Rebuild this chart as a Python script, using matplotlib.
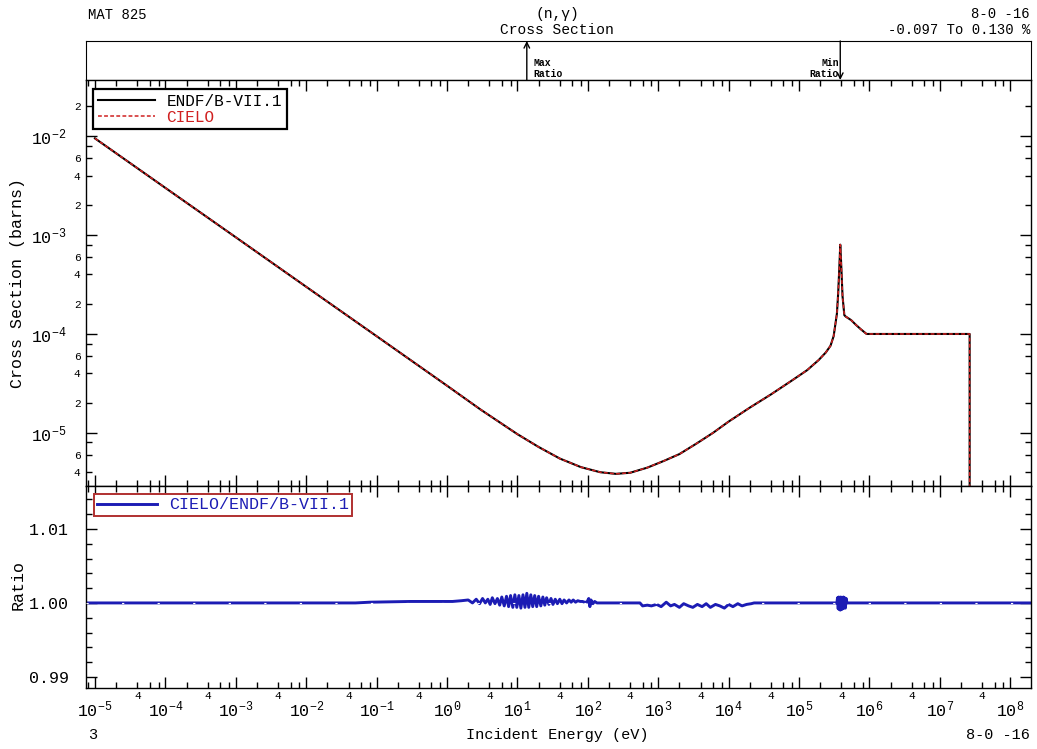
import numpy as np
import matplotlib
matplotlib.use('Agg')
import matplotlib.pyplot as plt
from matplotlib.ticker import LogLocator, FuncFormatter, FixedLocator, MultipleLocator, NullFormatter

plt.rcParams['font.family'] = ['Liberation Mono', 'DejaVu Sans']
plt.rcParams['mathtext.fontset'] = 'custom'
plt.rcParams['mathtext.rm'] = 'Liberation Mono'
plt.rcParams['mathtext.it'] = 'Liberation Mono'
plt.rcParams['mathtext.default'] = 'rm'

# O-16 (n,gamma) cross section
energy = [1e-5, 1e-4, 1e-3, 1e-2, 1e-1, 1.0, 3.0, 10.0, 20.0, 40.0, 80.0, 150.0,
          250.0, 400.0, 700.0, 1200.0, 2000.0, 3500.0, 6000.0, 1e4, 2e4, 4e4, 8e4,
          1.3e5, 1.9e5, 2.4e5, 2.8e5, 3.1e5, 3.45e5, 3.6e5, 3.75e5, 3.85e5, 3.95e5,
          4.15e5, 4.4e5, 4.6e5, 5.5e5, 6.4e5, 7.5e5, 9.1e5, 2.65e7, 2.65e7]
xs_endf = [9.5e-3, 3.0e-3, 9.5e-4, 3.0e-4, 9.5e-5, 3.0e-5, 1.72e-5, 9.7e-6, 7.2e-6,
           5.5e-6, 4.5e-6, 4.0e-6, 3.85e-6, 3.95e-6, 4.45e-6, 5.2e-6, 6.1e-6, 7.8e-6,
           1.0e-5, 1.3e-5, 1.8e-5, 2.45e-5, 3.4e-5, 4.3e-5, 5.45e-5, 6.5e-5, 7.6e-5,
           9.5e-5, 1.6e-4, 2.6e-4, 5.0e-4, 8.0e-4, 5.5e-4, 2.4e-4, 1.55e-4, 1.5e-4,
           1.38e-4, 1.24e-4, 1.12e-4, 1.0e-4, 1.0e-4, 1e-9]
xs_cielo = list(xs_endf)  # same as ENDF at this scale

# CIELO/ENDF ratio
ratio_e = [5e-6, 0.05, 0.08, 0.3, 1.2, 1.6,
           2.0, 2.3, 2.6, 2.9, 3.2, 3.5, 3.8, 4.1, 4.4, 4.8,
           5.2, 5.6, 6.0, 6.5, 7.0, 7.5, 8.0, 8.6, 9.2, 9.8,
           10.5, 11.2, 12.0, 12.8, 13.6, 14.5, 15.5, 16.5, 17.6, 18.8,
           20.0, 21.5, 23.0, 24.5, 26.0, 28.0, 30.0, 32.0, 34.5, 37.0,
           40.0, 43.0, 46.0, 50.0, 54.0, 58.0, 62.0, 67.0, 72.0, 78.0,
           84.0, 90.0, 97.0, 103.0, 107.0, 111.0, 118.0, 125.0, 135.0, 150.0,
           550.0, 600.0, 700.0, 800.0, 950.0, 1100.0, 1300.0, 1500.0, 1700.0, 2000.0,
           2300.0, 2700.0, 3100.0, 3600.0, 4200.0, 4800.0, 5500.0, 6500.0, 7500.0, 8700.0,
           1e4, 1.15e4, 1.35e4, 1.55e4, 1.8e4, 2.1e4, 2.3e4,
           3.45e5, 3.52e5, 3.6e5, 3.67e5, 3.75e5, 3.8e5, 3.85e5, 3.92e5, 4.0e5,
           4.08e5, 4.17e5, 4.26e5, 4.35e5, 4.45e5, 4.55e5, 4.67e5, 4.8e5, 3e8]
ratio_v = [1.0, 1.0, 1.0001, 1.0002, 1.0002, 1.0003,
           1.0004, 1.0000, 1.0005, 0.9999, 1.0006, 1.0000, 1.0005, 0.9998, 1.0007, 0.9999,
           1.0006, 0.9997, 1.0008, 0.9996, 1.0009, 0.9995, 1.0010, 0.9994, 1.0011, 0.9994,
           1.0010, 0.9993, 1.0011, 0.9994, 1.0013, 0.9994, 1.0011, 0.9995, 1.0010, 0.9995,
           1.0009, 0.9996, 1.0008, 0.9997, 1.0007, 0.9998, 1.0006, 0.9998, 1.0005, 0.9999,
           1.0005, 0.9999, 1.0004, 1.0000, 1.0004, 1.0001, 1.0004, 1.0001, 1.0003, 1.0002,
           1.0002, 1.0001, 1.0001, 1.0006, 0.9995, 1.0004, 0.9999, 1.0002, 1.0000, 1.0000,
           1.0000, 0.9996, 0.9997, 0.9996, 0.9998, 0.9995, 1.0001, 0.9996, 0.9998, 0.9994,
           0.9999, 0.9996, 0.9994, 0.9998, 0.9995, 0.9999, 0.9994, 0.9998, 0.9996, 0.9993,
           0.9998, 0.9995, 0.9999, 0.9996, 0.9998, 0.9999, 1.0000,
           1.0000, 1.0007, 0.9992, 1.0008, 0.9991, 1.0007, 0.99903, 1.0008, 0.9991,
           1.0007, 0.9992, 1.0008, 0.9993, 1.0007, 0.9993, 1.0006, 1.0000, 1.0000]

xlim = (7.45e-6, 1.97e8)
ylim_xs = (2.9e-6, 3.7e-2)

fig = plt.figure(figsize=(10.37, 7.49), dpi=100)
ax_top = fig.add_axes([0.0829, 0.8932, 0.9113, 0.0521])
ax = fig.add_axes([0.0829, 0.3511, 0.9113, 0.5421])
axr = fig.add_axes([0.0829, 0.0814, 0.9113, 0.2697])


def make_dec_fmt(lim):
    def fmt(v, p):
        if not (lim[0] <= v <= lim[1]):
            return ''
        return '$10^{%d}$' % int(round(np.log10(v)))
    return fmt


def lead_digit(v):
    return int(round(v / 10 ** np.floor(np.log10(v) + 1e-9)))


for a in (ax, axr):
    a.set_xscale('log')
    a.set_xlim(xlim)
    a.xaxis.set_major_locator(LogLocator(base=10, numticks=40))
    a.xaxis.set_minor_locator(LogLocator(base=10, subs=(2, 4, 6, 8), numticks=40))
    a.tick_params(which='both', direction='in', top=True, right=True)
    a.tick_params(which='major', length=8, width=1)
    a.tick_params(which='minor', length=4.5, width=1)
    for s in a.spines.values():
        s.set_linewidth(1)

# main panel
ax.plot(energy, xs_endf, color='black', lw=1.5, label='ENDF/B-VII.1')
ax.plot(energy, xs_cielo, color='#d02020', lw=1.1, ls=(0, (2.5, 1.5)), label='CIELO')
ax.set_yscale('log')
ax.set_ylim(ylim_xs)
ax.yaxis.set_major_locator(LogLocator(base=10, numticks=40))
ax.yaxis.set_minor_locator(LogLocator(base=10, subs=(2, 4, 6, 8), numticks=40))
ax.yaxis.set_major_formatter(FuncFormatter(make_dec_fmt(ylim_xs)))
ax.yaxis.set_minor_formatter(FuncFormatter(
    lambda v, p: '%d' % lead_digit(v)
    if lead_digit(v) in (2, 4, 6) and ylim_xs[0] <= v <= ylim_xs[1] else ''))
ax.tick_params(axis='x', labelbottom=False)
ax.tick_params(axis='y', which='major', labelsize=12, pad=14)
ax.tick_params(axis='y', which='minor', labelsize=8, pad=4)

leg = ax.legend(loc='upper left', bbox_to_anchor=(7 / 945, 1 - 9 / 406), borderaxespad=0,
                fancybox=False, edgecolor='black', fontsize=11.5, handlelength=3.6,
                handletextpad=0.7, labelspacing=0.05, borderpad=0.3, framealpha=1)
leg.get_frame().set_linewidth(1.6)
leg.get_texts()[1].set_color('#d02020')

# ratio panel
axr.plot(ratio_e, ratio_v, color='#1c1cb4', lw=2.1, label='CIELO/ENDF/B-VII.1')
axr.axhline(1.0, color='white', lw=0.8, dashes=(2, 30), zorder=3)
axr.set_ylim(0.9885, 1.0158)
axr.yaxis.set_major_locator(FixedLocator([0.99, 1.00, 1.01]))
axr.yaxis.set_major_formatter(FuncFormatter(lambda v, p: '%.2f' % v))
axr.yaxis.set_minor_locator(MultipleLocator(0.002))
axr.yaxis.set_minor_formatter(NullFormatter())
axr.tick_params(axis='y', which='major', labelsize=12, pad=12)
axr.xaxis.set_major_formatter(FuncFormatter(make_dec_fmt(xlim)))
axr.xaxis.set_minor_formatter(FuncFormatter(
    lambda v, p: '4' if lead_digit(v) == 4 and xlim[0] <= v <= xlim[1] else ''))
axr.tick_params(axis='x', which='major', labelsize=12, pad=8)
axr.tick_params(axis='x', which='minor', labelsize=8, pad=2)

legr = axr.legend(loc='upper left', bbox_to_anchor=(8 / 945, 1 - 8 / 202), borderaxespad=0,
                  fancybox=False, edgecolor='#b03030', fontsize=12, handlelength=3.6,
                  handletextpad=0.7, borderpad=0.2, framealpha=1)
legr.get_frame().set_linewidth(1.4)
legr.get_texts()[0].set_color('#1c1cb4')

# top strip with max / min ratio markers
ax_top.set_xscale('log')
ax_top.set_xlim(xlim)
ax_top.set_ylim(0, 1)
ax_top.tick_params(which='both', bottom=False, top=False, left=False, right=False,
                   labelbottom=False, labelleft=False)
e_max = ratio_e[int(np.argmax(ratio_v))]
e_min = ratio_e[int(np.argmin(ratio_v))]
ax_top.annotate('', xy=(e_max, 1), xytext=(e_max, 0),
                arrowprops=dict(arrowstyle='->', lw=1, color='black', shrinkA=0, shrinkB=0))
ax_top.annotate('Max\nRatio', xy=(e_max, 0), xytext=(5, 1), textcoords='offset points',
                fontsize=7, fontweight='bold', ha='left', va='bottom', linespacing=1.1)
ax_top.annotate('', xy=(e_min, 0), xytext=(e_min, 1),
                arrowprops=dict(arrowstyle='->', lw=1, color='black', shrinkA=0, shrinkB=0))
ax_top.annotate('Min\nRatio', xy=(e_min, 0), xytext=(-1, 1), textcoords='offset points',
                fontsize=7, fontweight='bold', ha='right', va='bottom', linespacing=1.1)

# header / footer text
W, H = 1037.0, 749.0
fig.text(88 / W, 1 - 15 / H, 'MAT 825', fontsize=10, ha='left', va='center')
fig.text(557 / W, 1 - 14 / H, '(n,\u03b3)', fontsize=10.5, ha='center', va='center')
fig.text(557 / W, 1 - 30 / H, 'Cross Section', fontsize=10.5, ha='center', va='center')
fig.text(1030 / W, 1 - 14 / H, '8-0 -16', fontsize=10, ha='right', va='center')
fig.text(1030 / W, 1 - 30 / H, '-0.097 To 0.130 %', fontsize=10, ha='right', va='center')
fig.text(88 / W, 1 - 735 / H, '3', fontsize=11, ha='left', va='center')
fig.text(557 / W, 1 - 735 / H, 'Incident Energy (eV)', fontsize=11, ha='center', va='center')
fig.text(1030 / W, 1 - 735 / H, '8-0 -16', fontsize=11, ha='right', va='center')
fig.text(18 / W, 1 - 283 / H, 'Cross Section (barns)', fontsize=12, rotation=90,
         ha='center', va='center')
fig.text(18 / W, 1 - 585 / H, 'Ratio', fontsize=12, rotation=90, ha='center', va='center')

fig.savefig('out.png', dpi=100)
